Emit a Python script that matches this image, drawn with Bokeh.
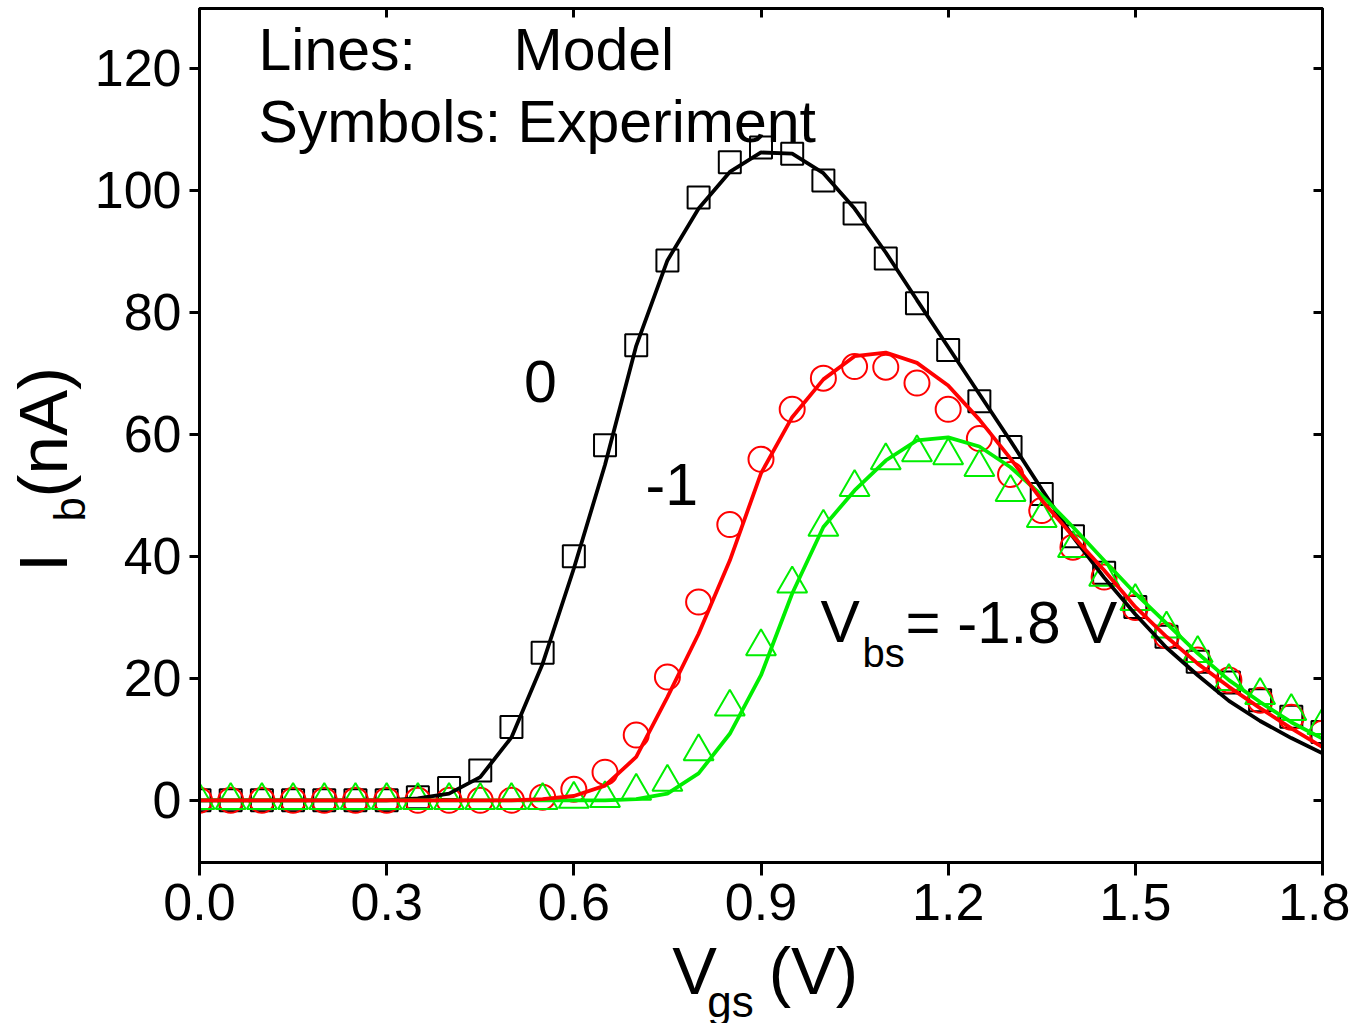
import math
from bokeh.plotting import figure
from bokeh.models import Range1d, LinearAxis, FixedTicker, NumeralTickFormatter, Label
from bokeh.embed import file_html
from bokeh.resources import INLINE

# ---------------- data ----------------
vgs = [0.0, 0.05, 0.1, 0.15, 0.2, 0.25, 0.3, 0.35, 0.4, 0.45, 0.5, 0.55, 0.6, 0.65,
       0.7, 0.75, 0.8, 0.85, 0.9, 0.95, 1.0, 1.05, 1.1, 1.15, 1.2, 1.25, 1.3, 1.35,
       1.4, 1.45, 1.5, 1.55, 1.6, 1.65, 1.7, 1.75, 1.8]

# experiment (symbols)
exp_vbs0 = [0, 0, 0, 0, 0, 0, 0, 0.5, 2.0, 4.9, 12.0, 24.2, 40.0, 58.2,
            74.6, 88.5, 98.8, 104.6, 107.0, 106.0, 101.6, 96.2, 88.8, 81.5, 73.8, 65.4, 57.9, 50.2,
            43.3, 37.3, 31.7, 26.8, 22.7, 19.3, 16.4, 13.7, 11.2]
exp_vbs1 = [0, 0, 0, 0, 0, 0, 0, 0, 0, 0, 0, 0.5, 1.8, 4.6,
            10.7, 20.2, 32.5, 45.2, 55.9, 64.1, 69.2, 71.1, 71.0, 68.4, 64.1, 59.3, 53.4, 47.5,
            41.5, 36.6, 31.6, 27.0, 23.0, 19.7, 16.4, 13.6, 11.0]
exp_vbs18 = [0, 0, 0, 0, 0, 0, 0, 0, 0, 0, 0, 0, 0.2, 0.3,
             1.5, 3.0, 8.0, 15.3, 25.2, 35.5, 44.8, 51.3, 55.7, 57.0, 56.5, 54.6, 50.5, 46.2,
             41.3, 36.6, 32.6, 28.1, 24.1, 19.5, 17.2, 14.6, 12.3]

# model (lines)
mod_vbs0 = [0, 0, 0, 0, 0, 0, 0, 0.3, 1.1, 3.8, 10.3, 22.4, 38.0, 55.0,
            74.5, 88.5, 97.0, 103.0, 106.2, 106.0, 102.8, 97.0, 89.8, 82.0, 74.3, 66.6, 58.9, 51.0,
            43.2, 36.5, 30.5, 25.0, 20.5, 16.3, 13.0, 10.2, 7.7]
mod_vbs1 = [0, 0, 0, 0, 0, 0, 0, 0, 0, 0, 0, 0.2, 0.7, 2.4,
            7.1, 16.9, 27.3, 39.3, 53.6, 62.8, 69.0, 72.8, 73.4, 71.7, 68.0, 62.4, 56.0, 49.2,
            43.3, 37.7, 31.7, 26.8, 22.4, 18.6, 15.1, 11.8, 8.7]
mod_vbs18 = [0, 0, 0, 0, 0, 0, 0, 0, 0, 0, 0, 0, 0, 0,
             0.2, 1.1, 4.4, 10.9, 20.5, 33.9, 44.8, 50.8, 55.7, 59.0, 59.5, 58.0, 54.6, 50.0,
             44.8, 39.3, 33.9, 29.0, 24.1, 19.7, 16.1, 12.8, 10.1]

x_ticks = [0.0, 0.3, 0.6, 0.9, 1.2, 1.5, 1.8]
y_ticks = [0, 20, 40, 60, 80, 100, 120]

BLACK = "#000000"
RED = "#ff0000"
GREEN = "#00ee00"
FONT = "Liberation Sans"

# ---------------- figure ----------------
p = figure(frame_width=1123, frame_height=854, output_backend="svg", toolbar_location=None,
           x_range=Range1d(0, 1.8), y_range=Range1d(-10.2, 129.8),
           min_border_left=199, min_border_right=28, min_border_top=8, min_border_bottom=150,
           x_axis_type=None, y_axis_type=None)
p.grid.visible = False
p.outline_line_color = "black"
p.outline_line_width = 3
p.background_fill_color = "white"
p.border_fill_color = "white"


def style_axis(ax, ticks, labels=True, tick_out=0, tick_in=0):
    ax.ticker = FixedTicker(ticks=ticks)
    ax.axis_line_width = 3
    ax.axis_line_color = "black"
    ax.major_tick_line_width = 3
    ax.major_tick_line_color = "black"
    ax.major_tick_out = tick_out
    ax.major_tick_in = tick_in
    ax.minor_tick_line_color = None
    if labels:
        ax.major_label_text_font = FONT
        ax.major_label_text_font_size = "52px"
        ax.major_label_text_color = "black"
    else:
        ax.major_label_text_font_size = "1px"
        ax.major_label_text_color = None
        ax.major_label_text_alpha = 0
        ax.major_label_standoff = 0


xb = LinearAxis()
style_axis(xb, x_ticks, True, tick_out=13)
xb.formatter = NumeralTickFormatter(format="0.0")
xb.major_label_standoff = 8
p.add_layout(xb, "below")

yl = LinearAxis()
style_axis(yl, y_ticks, True, tick_out=10)
yl.major_label_standoff = 8
p.add_layout(yl, "left")

xt = LinearAxis()
style_axis(xt, x_ticks, False, tick_in=9)
p.add_layout(xt, "above")

yr = LinearAxis()
style_axis(yr, y_ticks, False, tick_in=9)
p.add_layout(yr, "right")


# ---------------- axis titles (built from label-only axes, for subscripts) ----------------
def title_axis(side, positions, texts, size, standoff, orientation="horizontal"):
    ax = LinearAxis()
    ax.ticker = FixedTicker(ticks=positions)
    ax.major_label_overrides = {pos: t for pos, t in zip(positions, texts)}
    ax.axis_line_color = None
    ax.major_tick_line_color = None
    ax.minor_tick_line_color = None
    ax.major_tick_out = 0
    ax.major_tick_in = 0
    ax.major_label_text_font = FONT
    ax.major_label_text_font_size = f"{size}px"
    ax.major_label_text_color = "black"
    ax.major_label_standoff = standoff
    ax.major_label_orientation = orientation
    p.add_layout(ax, side)


def px2x(px):
    return round((px - 199) / 623.9, 4)


def py2y(py):
    return round((800 - py) / 6.1, 3)


# x title: V_gs (V)
title_axis("below", [px2x(694), px2x(813)], ["V", "(V)"], 67, 10)
title_axis("below", [px2x(730)], ["gs"], 44, -34)
# y title: I_b (nA)
title_axis("left", [py2y(509)], ["b"], 44, -3, orientation="vertical")
title_axis("left", [py2y(562), py2y(432)], ["I", "(nA)"], 69, -40, orientation="vertical")

# ---------------- symbols ----------------
p.scatter(vgs, exp_vbs0, marker="square", size=22, fill_color=None,
          line_color=BLACK, line_width=2)
p.scatter(vgs, exp_vbs1, marker="circle", size=25, fill_color=None,
          line_color=RED, line_width=2)
p.scatter(vgs, exp_vbs18, marker="triangle", size=30, fill_color=None,
          line_color=GREEN, line_width=2)

# ---------------- model lines ----------------
p.line(vgs, mod_vbs0, line_color=BLACK, line_width=3.8)
p.line(vgs, mod_vbs18, line_color=GREEN, line_width=3.8)
p.line(vgs, mod_vbs1, line_color=RED, line_width=3.8)


# ---------------- texts inside the frame ----------------
def add_text(txt, px, py, size, align="left"):
    p.add_layout(Label(x=px2x(px), y=py2y(py), text=txt, text_font=FONT,
                       text_font_size=f"{size}px", text_color="black",
                       text_align=align, text_baseline="alphabetic"))


add_text("Lines:", 258, 50, 59)
add_text("Model", 513, 50, 59)
add_text("Symbols: Experiment", 258, 122, 59)
add_text("0", 540, 381, 59, align="center")
add_text("-1", 645, 484, 59)
add_text("V", 820, 622, 59)
add_text("bs", 862, 653, 40)
add_text("= -1.8 V", 905, 622, 60)

open("out.html", "w").write(file_html(p, INLINE))
